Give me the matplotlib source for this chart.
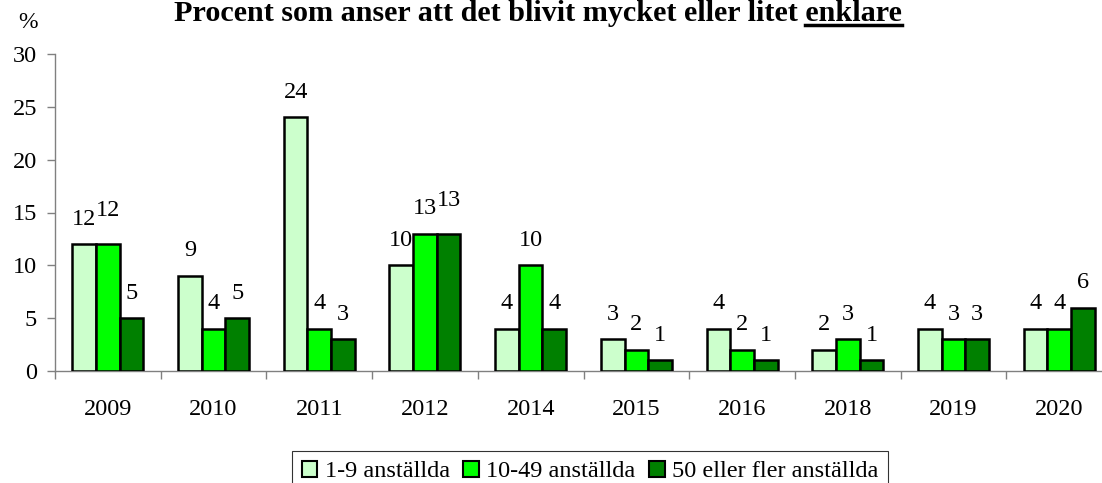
import matplotlib
matplotlib.use("Agg")
import matplotlib.pyplot as plt
from matplotlib.patches import Patch
from matplotlib.lines import Line2D
import numpy as np

plt.rcParams['font.family'] = ['Liberation Serif', 'DejaVu Serif']

years = ['2009', '2010', '2011', '2012', '2014', '2015', '2016', '2018', '2019', '2020']
small = [12, 9, 24, 10, 4, 3, 4, 2, 4, 4]
medium = [12, 4, 4, 13, 10, 2, 2, 3, 3, 4]
large = [5, 5, 3, 13, 4, 1, 1, 1, 3, 6]
series_names = ['1-9 anställda', '10-49 anställda', '50 eller fler anställda']
colors = ['#CCFFCC', '#00FF00', '#008000']

W, H = 1102, 483
fig = plt.figure(figsize=(W / 100, H / 100), dpi=100)
ax = fig.add_axes([55 / W, 1 - 371 / H, 1057 / W, 317 / H])

x = np.arange(len(years))
bw = 0.224
fs = 17.5
all_vals = [small, medium, large]
for i, (vals, col) in enumerate(zip(all_vals, colors)):
    pos = x + (i - 1) * bw
    ax.bar(pos, vals, width=bw, color=col, edgecolor='black', linewidth=1.8, zorder=3)
    for j, (px, v) in enumerate(zip(pos, vals)):
        off = 14
        # avoid overlap of adjacent two-digit labels at equal height
        if i > 0 and v >= 10 and all_vals[i - 1][j] == v:
            off += 6
        ax.annotate(str(v), (px, v), xytext=(0, off), textcoords='offset points',
                    ha='center', va='baseline', fontsize=fs)

ax.set_xlim(-0.5, len(years) - 0.5)
ax.set_ylim(0, 30)
ax.set_yticks(range(0, 31, 5))
ax.tick_params(axis='y', labelsize=fs, length=6, width=1, color='#808080', pad=7)
ax.set_xticks(x)
ax.set_xticklabels(years)
ax.tick_params(axis='x', which='major', length=0, labelsize=fs, pad=20)
ax.set_xticks(np.arange(-0.5, len(years) + 0.5, 1), minor=True)
ax.tick_params(axis='x', which='minor', length=6, width=1, color='#808080')
for s in ['top', 'right']:
    ax.spines[s].set_visible(False)
for s in ['left', 'bottom']:
    ax.spines[s].set_color('#808080')
    ax.spines[s].set_linewidth(1)

fig.text(28 / W, 1 - 22 / H, '%', ha='center', va='center', fontsize=17)

title = 'Procent som anser att det blivit mycket eller litet '
under = 'enklare'
tfs = 21.7
t = fig.text(538 / W, 1 - 21 / H, title + under, ha='center', va='baseline',
             fontsize=tfs, fontweight='bold')
fig.canvas.draw()
r = fig.canvas.get_renderer()
bb = t.get_window_extent(r)
tmp = fig.text(0, 0, under, fontsize=tfs, fontweight='bold')
wb = tmp.get_window_extent(r)
tmp.remove()
x1 = bb.x1 / W
x0 = (bb.x1 - wb.width) / W
yb = (H - 21 - 3.5) / H
fig.add_artist(Line2D([x0, x1], [yb, yb], transform=fig.transFigure, color='black', linewidth=2.5))

handles = [Patch(facecolor=c, edgecolor='black', linewidth=1.5) for c in colors]
leg = fig.legend(handles, series_names, loc='upper center', bbox_to_anchor=(590 / W, 1 - 451 / H),
                 ncol=3, fontsize=fs, frameon=True, fancybox=False, edgecolor='black',
                 handlelength=0.65, handleheight=0.65, handletextpad=0.3, columnspacing=0.55,
                 borderpad=0.4, borderaxespad=0)
leg.get_frame().set_linewidth(0.8)

fig.savefig('out.png', dpi=100)
